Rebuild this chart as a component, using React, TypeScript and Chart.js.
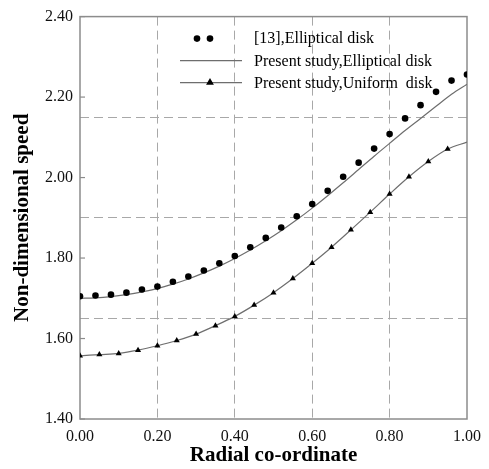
import { useEffect, useRef } from "react";
import { Chart, registerables } from "chart.js";

Chart.register(...registerables);

// [13], Elliptical disk (reference points)
const refRadial = [0.0, 0.04, 0.08, 0.12, 0.16, 0.2, 0.24, 0.28, 0.32, 0.36, 0.4, 0.44, 0.48, 0.52, 0.56, 0.6, 0.64, 0.68, 0.72, 0.76, 0.8, 0.84, 0.88, 0.92, 0.96, 1.0];
const refSpeed = [1.705, 1.707, 1.709, 1.714, 1.722, 1.729, 1.741, 1.754, 1.769, 1.787, 1.805, 1.827, 1.85, 1.876, 1.904, 1.934, 1.967, 2.002, 2.037, 2.072, 2.108, 2.147, 2.18, 2.213, 2.241, 2.256];

// Present study, Elliptical disk (line)
const ellRadial = [0.0, 0.04, 0.08, 0.12, 0.16, 0.2, 0.24, 0.28, 0.32, 0.36, 0.4, 0.44, 0.48, 0.52, 0.56, 0.6, 0.64, 0.68, 0.72, 0.76, 0.8, 0.84, 0.88, 0.92, 0.96, 1.0];
const ellSpeed = [1.7, 1.701, 1.704, 1.709, 1.716, 1.724, 1.735, 1.748, 1.763, 1.78, 1.799, 1.82, 1.843, 1.868, 1.895, 1.924, 1.955, 1.987, 2.02, 2.053, 2.085, 2.117, 2.147, 2.177, 2.207, 2.232];

// Present study, Uniform disk (line + triangles)
const uniRadial = [0.0, 0.05, 0.1, 0.15, 0.2, 0.25, 0.3, 0.35, 0.4, 0.45, 0.5, 0.55, 0.6, 0.65, 0.7, 0.75, 0.8, 0.85, 0.9, 0.95, 1.0];
const uniSpeed = [1.557, 1.56, 1.563, 1.571, 1.582, 1.595, 1.611, 1.632, 1.655, 1.683, 1.714, 1.749, 1.787, 1.827, 1.87, 1.914, 1.959, 2.002, 2.04, 2.071, 2.088];

const hGridValues = [1.65, 1.9, 2.15];
const seriesLabels = ["[13],Elliptical disk", "Present study,Elliptical disk", "Present study,Uniform  disk"];
const xTitle = "Radial co-ordinate";
const yTitle = "Non-dimensional speed";

const FONT = "'Liberation Serif', 'Times New Roman', serif";
const LINE_COLOR = "#6e6e6e";
const FRAME_COLOR = "#8c8c8c";
const GRID_COLOR = "#a8a8a8";

function toPoints(xs: number[], ys: number[]) {
  return xs.map((x, i) => ({ x, y: ys[i] }));
}

const framePlugin = {
  id: "frame",
  beforeDatasetsDraw(chart: any) {
    const { ctx, chartArea: a } = chart;
    ctx.save();
    ctx.strokeStyle = FRAME_COLOR;
    ctx.lineWidth = 1.5;
    ctx.strokeRect(a.left, a.top, a.right - a.left, a.bottom - a.top);
    const ys = chart.scales.y;
    ctx.lineWidth = 1.2;
    ys.ticks.forEach((t: any) => {
      const py = ys.getPixelForValue(t.value);
      ctx.beginPath();
      ctx.moveTo(a.left, py);
      ctx.lineTo(a.left + 5, py);
      ctx.stroke();
    });
    ctx.restore();
  },
};

const legendPlugin = {
  id: "customLegend",
  afterDatasetsDraw(chart: any) {
    const { ctx, chartArea: a } = chart;
    const ds = chart.data.datasets;
    const lx0 = a.left + 100;
    const lx1 = a.left + 162;
    const tx = a.left + 174;
    const rows = [a.top + 22, a.top + 44, a.top + 66];
    ctx.save();
    // row 1: two dots
    ctx.fillStyle = ds[0].pointBackgroundColor;
    [a.left + 117, a.left + 130].forEach((px) => {
      ctx.beginPath();
      ctx.arc(px, rows[0], ds[0].pointRadius, 0, Math.PI * 2);
      ctx.fill();
    });
    // row 2: line
    ctx.strokeStyle = ds[1].borderColor;
    ctx.lineWidth = ds[1].borderWidth;
    ctx.beginPath();
    ctx.moveTo(lx0, rows[1]);
    ctx.lineTo(lx1, rows[1]);
    ctx.stroke();
    // row 3: line + triangle
    ctx.strokeStyle = ds[2].borderColor;
    ctx.lineWidth = ds[2].borderWidth;
    ctx.beginPath();
    ctx.moveTo(lx0, rows[2]);
    ctx.lineTo(lx1, rows[2]);
    ctx.stroke();
    const r = 4.5;
    const cx = a.left + 130;
    const cy = rows[2];
    ctx.fillStyle = ds[2].pointBackgroundColor;
    ctx.beginPath();
    let rad = 0;
    ctx.moveTo(cx + Math.sin(rad) * r, cy - Math.cos(rad) * r);
    rad += (2 * Math.PI) / 3;
    ctx.lineTo(cx + Math.sin(rad) * r, cy - Math.cos(rad) * r);
    rad += (2 * Math.PI) / 3;
    ctx.lineTo(cx + Math.sin(rad) * r, cy - Math.cos(rad) * r);
    ctx.closePath();
    ctx.fill();
    // texts
    ctx.fillStyle = "#000";
    ctx.font = `16px ${FONT}`;
    ctx.textBaseline = "middle";
    ctx.textAlign = "left";
    const textRows = [a.top + 22, a.top + 45, a.top + 67];
    ds.forEach((d: any, i: number) => {
      ctx.fillText(d.label, tx, textRows[i]);
    });
    ctx.restore();
  },
};

export default function App() {
  const canvasRef = useRef<HTMLCanvasElement | null>(null);

  useEffect(() => {
    if (!canvasRef.current) return;
    const chart = new Chart(canvasRef.current, {
      type: "scatter",
      data: {
        datasets: [
          {
            label: seriesLabels[0],
            data: toPoints(refRadial, refSpeed),
            showLine: false,
            pointStyle: "circle",
            pointRadius: 3.3,
            pointBackgroundColor: "#000",
            pointBorderColor: "#000",
            pointBorderWidth: 0,
          },
          {
            label: seriesLabels[1],
            data: toPoints(ellRadial, ellSpeed),
            showLine: true,
            cubicInterpolationMode: "monotone",
            borderColor: LINE_COLOR,
            borderWidth: 1.2,
            pointRadius: 0,
          },
          {
            label: seriesLabels[2],
            data: toPoints(uniRadial, uniSpeed),
            showLine: true,
            cubicInterpolationMode: "monotone",
            borderColor: LINE_COLOR,
            borderWidth: 1.2,
            pointStyle: "triangle",
            pointRadius: uniRadial.map((_, i) => (i === uniRadial.length - 1 ? 0 : 3.5)),
            pointBackgroundColor: "#000",
            pointBorderColor: "#000",
            pointBorderWidth: 0,
          },
        ] as any,
      },
      plugins: [framePlugin, legendPlugin],
      options: {
        responsive: false,
        animation: false,
        layout: { padding: { top: 11, right: 20, left: 0, bottom: 0 } },
        plugins: {
          legend: { display: false },
          tooltip: { enabled: false },
        },
        scales: {
          x: {
            type: "linear",
            min: 0,
            max: 1,
            afterFit: (s: any) => {
              s.height = 50;
            },
            ticks: {
              stepSize: 0.2,
              padding: 8,
              color: "#111",
              font: { family: FONT, size: 16 },
              callback: (v: any) => Number(v).toFixed(2),
            },
            grid: {
              drawTicks: false,
              color: (c: any) =>
                c.tick && (c.tick.value <= 0.001 || c.tick.value >= 0.999) ? "rgba(0,0,0,0)" : GRID_COLOR,
              lineWidth: 1,
            },
            border: { display: false, dash: [9, 5] },
            title: {
              display: true,
              text: xTitle,
              color: "#000",
              font: { family: FONT, size: 21, weight: "bold" },
              padding: { top: 0, bottom: 1 },
            },
          },
          y: {
            type: "linear",
            position: "left",
            min: 1.4,
            max: 2.4,
            afterFit: (s: any) => {
              s.width = 80;
            },
            ticks: {
              stepSize: 0.2,
              padding: 7,
              color: "#111",
              font: { family: FONT, size: 16 },
              callback: (v: any) => Number(v).toFixed(2),
            },
            grid: { display: false, drawTicks: false },
            border: { display: false },
            title: {
              display: true,
              text: yTitle,
              color: "#000",
              font: { family: FONT, size: 21, weight: "bold" },
              padding: { top: 10, bottom: 0 },
            },
          },
          y2: {
            type: "linear",
            position: "left",
            min: 1.4,
            max: 2.4,
            afterFit: (s: any) => {
              s.width = 0;
            },
            afterBuildTicks: (s: any) => {
              s.ticks = hGridValues.map((v) => ({ value: v }));
            },
            ticks: { display: false },
            grid: { drawTicks: false, color: GRID_COLOR, lineWidth: 1 },
            border: { display: false, dash: [9, 5] },
          },
        },
      } as any,
    });
    return () => chart.destroy();
  }, []);

  return (
    <div style={{ position: "absolute", left: 0, top: 0, width: 489, height: 469 }}>
      <canvas ref={canvasRef} width={489} height={469} style={{ display: "block" }} />
    </div>
  );
}
